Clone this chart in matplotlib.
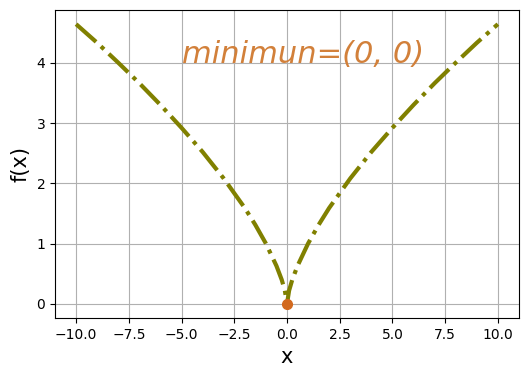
import matplotlib
matplotlib.use("Agg")
import matplotlib.pyplot as plt

# curve points
x_vals = [-10, -9, -8, -7, -6, -5, -4, -3, -2, -1.5, -1, -0.5, -0.25, -0.1, 0,
          0.1, 0.25, 0.5, 1, 1.5, 2, 3, 4, 5, 6, 7, 8, 9, 10]
y_vals = [4.64, 4.33, 4.00, 3.66, 3.30, 2.92, 2.52, 2.08, 1.59, 1.31, 1.00, 0.63, 0.40, 0.22, 0.0,
          0.22, 0.40, 0.63, 1.00, 1.31, 1.59, 2.08, 2.52, 2.92, 3.30, 3.66, 4.00, 4.33, 4.64]
min_point = (0, 0)
label_text = "minimun=(0, 0)"

fig, ax = plt.subplots(figsize=(5.29, 3.77), dpi=100)
fig.subplots_adjust(left=0.104, right=0.981, top=0.973, bottom=0.157)

ax.plot(x_vals, y_vals, color="olive", linestyle="-.", linewidth=3)
ax.plot(min_point[0], min_point[1], "o", color="#d2691e", markersize=7)
ax.text(-5, 4.0, label_text, fontsize=22, style="italic", color="#d2803a")

ax.set_xlabel("x", fontsize=15)
ax.set_ylabel("f(x)", fontsize=15)
ax.grid(True)

fig.savefig("out.png", dpi=100)
